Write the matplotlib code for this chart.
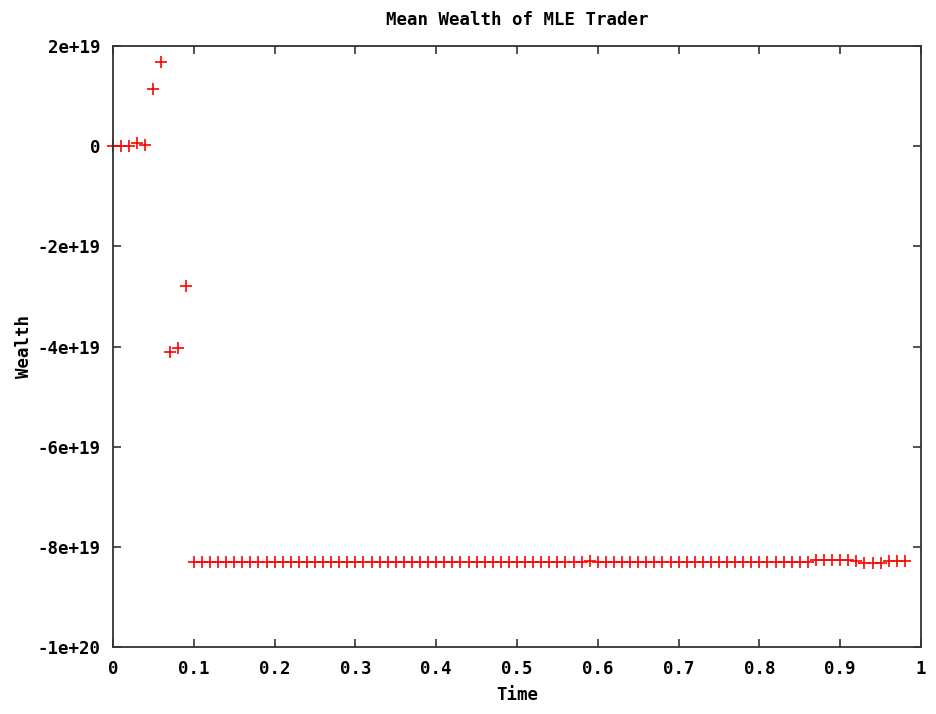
import numpy as np
import matplotlib
matplotlib.use('Agg')
import matplotlib.pyplot as plt
from matplotlib.ticker import FixedLocator

# Mean wealth sampled every 0.01 time units
time = [round(0.01 * i, 2) for i in range(99)]
early_wealth = [0.0, 0.0, 0.05e18, 0.6e18, 0.2e18, 1.134e19, 1.69e19, -4.10e19, -4.03e19, -2.79e19]
plateau = [-8.30e19] * 49 + [-8.28e19] + [-8.30e19] * 27 + [-8.27e19] * 5 + [-8.28e19] + [-8.32e19] * 3 + [-8.28e19] * 3
wealth = early_wealth + plateau

x_ticks = [0, 0.1, 0.2, 0.3, 0.4, 0.5, 0.6, 0.7, 0.8, 0.9, 1]
x_labels = ['0', '0.1', '0.2', '0.3', '0.4', '0.5', '0.6', '0.7', '0.8', '0.9', '1']
y_ticks = [2e19, 0, -2e19, -4e19, -6e19, -8e19, -1e20]
y_labels = ['2e+19', '0', '-2e+19', '-4e+19', '-6e+19', '-8e+19', '-1e+20']

font = {'family': 'DejaVu Sans Mono', 'weight': 'bold', 'size': 12.5}

fig = plt.figure(figsize=(9.36, 7.14), dpi=100)
ax = fig.add_axes([113 / 936, 1 - 647 / 714, 808 / 936, 601 / 714])

ax.plot(time, wealth, linestyle='none', marker='+', color='red',
        markersize=9, markeredgewidth=1.2, clip_on=False)

ax.set_xlim(0, 1)
ax.set_ylim(-1e20, 2e19)
ax.xaxis.set_major_locator(FixedLocator(x_ticks))
ax.yaxis.set_major_locator(FixedLocator(y_ticks))
ax.set_xticklabels(x_labels, fontdict=font)
ax.set_yticklabels(y_labels, fontdict=font)
ax.tick_params(direction='in', length=6, width=1.2, color='#333333',
               top=True, right=True, pad=9)
for sp in ax.spines.values():
    sp.set_linewidth(1.3)
    sp.set_color('#333333')

ax.set_title('Mean Wealth of MLE Trader', fontdict=font, pad=15)
ax.set_xlabel('Time', fontdict=font, labelpad=6)
ax.set_ylabel('Wealth', fontdict=font, labelpad=3)

fig.savefig('out.png', dpi=100)
